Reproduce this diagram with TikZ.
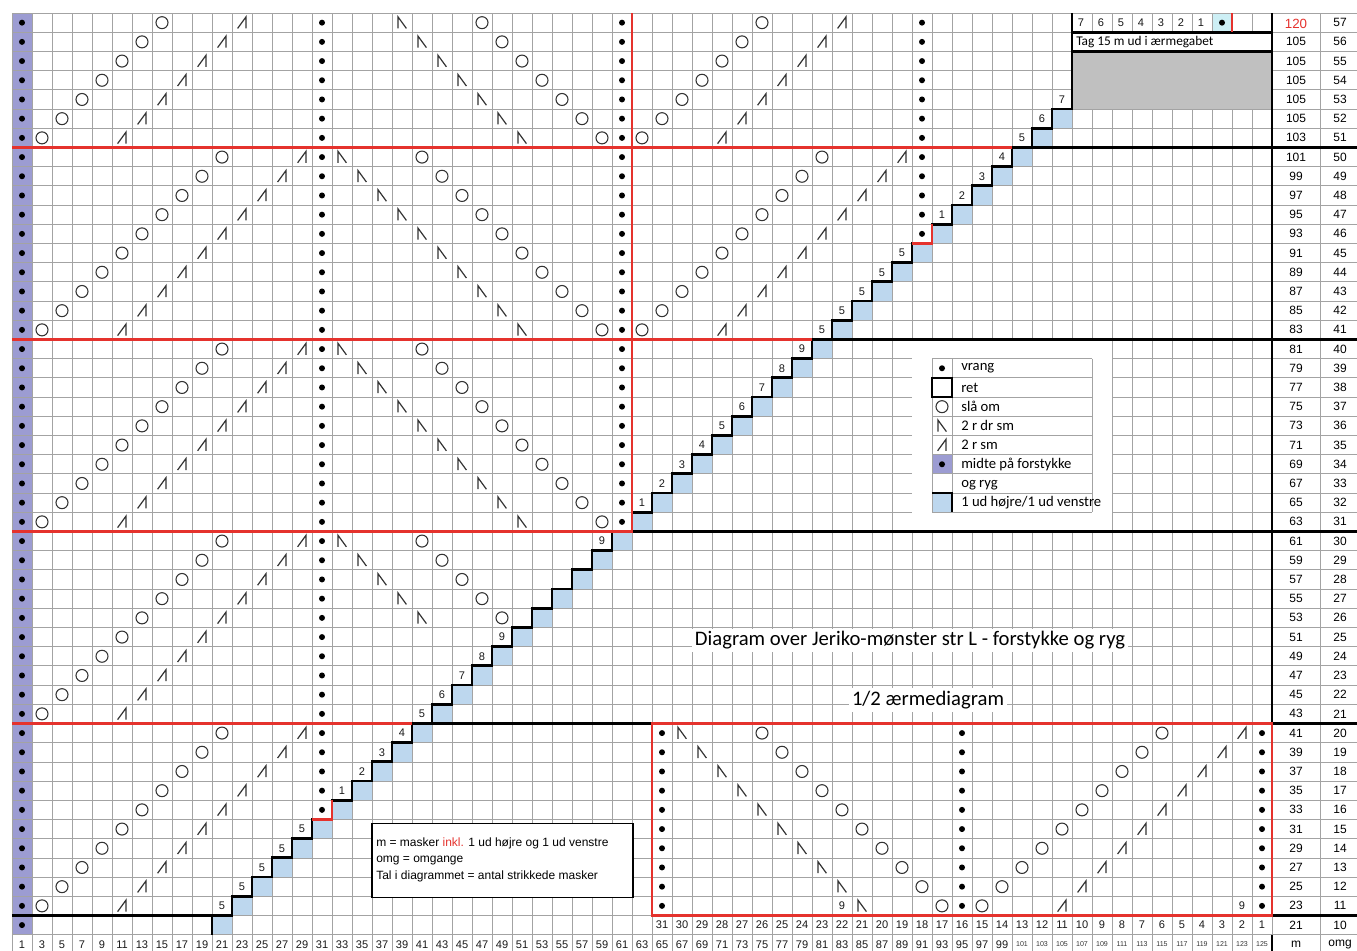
\documentclass[tikz,border=0pt]{standalone}
\usepackage{xcolor}
\usepackage{fontspec}
\setmainfont{Liberation Sans}
\newfontfamily\calibrifont{Carlito}
\usepackage{tikz}
\usetikzlibrary{positioning}
\definecolor{gridgrey}{HTML}{A3A3A3}
\definecolor{markred}{HTML}{E5322D}
\definecolor{midte}{HTML}{9C9CD2}
\definecolor{udblue}{HTML}{BDD7EE}
\definecolor{boxgrey}{HTML}{C0C0C0}
\definecolor{ink}{HTML}{333333}
\definecolor{tagcyan}{HTML}{CDEFF5}

\tikzset{
  drsm/.pic={\draw[ink, line width=0.9pt] (-0.2,0.3) -- (-0.2,-0.3) -- (0.22,0.3);},
  rsm/.pic={\draw[ink, line width=0.9pt] (-0.22,0.3) -- (0.2,-0.3) -- (0.2,0.3);},
}

\begin{document}
\begin{tikzpicture}[
    x=15pt, y=-14.4pt,
    gridline/.style={draw=gridgrey, line width=0.55pt},
    redline/.style={draw=markred, line width=2.1pt},
    blackline/.style={draw=black, line width=2.1pt},
    vrang/.style={circle, fill=black, inner sep=0pt, minimum size=4.5pt},
    slaaom/.style={circle, draw=ink, line width=0.8pt, inner sep=0pt, minimum size=9pt},
    tal/.style={font=\fontsize{8.3}{9}\selectfont, text=black!90, inner sep=0pt},
    tinytal/.style={font=\fontsize{5.3}{6}\selectfont, text=ink, inner sep=0pt},
    sidetal/.style={font=\fontsize{9}{10}\selectfont, inner sep=0pt},
    legendtext/.style={font=\calibrifont\fontsize{11}{12}\selectfont, anchor=west, inner sep=0pt},
    headline/.style={font=\calibrifont\fontsize{15.5}{18}\selectfont, fill=white, inner sep=2pt},
  ]
  \useasboundingbox (-0.6,-0.68) rectangle (67.25,48.85);

  \fill[midte] (0,0) rectangle (1,48);
  \foreach \rr in {5,...,47} \fill[udblue] ({57-\rr},\rr) rectangle ++(1,1);
  \fill[tagcyan] (60,0) rectangle (61,1);

  \foreach \cc in {0,...,63} \draw[gridline] (\cc,0) -- (\cc,49);
  \draw[gridline] (65.4,0) -- (65.4,49);
  \foreach \rr in {0,...,49} \draw[gridline] (0,\rr) -- (67.4,\rr);

  \fill[boxgrey] (53,2) rectangle (63,5);
  \fill[white] (53,1) rectangle (63,2);
  \fill[white] (45,17) rectangle (55,27);

  \fill[midte] (46,23) rectangle (47,24);
  \fill[udblue] (46,25) rectangle (47,26);
  \foreach \rr in {18,...,26} \draw[gridline] (46,\rr) -- (54,\rr);
  \foreach \cc in {46,47,54} \draw[gridline] (\cc,18) -- (\cc,26);
  \draw[black, line width=1.2pt] (46,19) rectangle (47,20);
  \draw[black, line width=1.5pt] (46,25) -- (47,25) -- (47,26);

  \draw[blackline] (0,47) foreach \rr in {46,...,5} { -- ({57-\rr},\rr+1) -- ({57-\rr},\rr) } -- (53,5) -- (53,0);
  \draw[blackline] (10,47) -- (10,48);
  \draw[blackline] (50,7) -- (67.4,7);
  \draw[blackline] (40,17) -- (67.4,17);
  \draw[blackline] (31,27) -- (67.4,27);
  \draw[blackline] (20,37) -- (32,37);
  \draw[blackline] (63,37) -- (67.4,37);
  \draw[blackline] (63,47) -- (67.4,47);
  \draw[blackline] (63,0) -- (63,37);
  \draw[blackline] (63,48) -- (63,49);
  \draw[blackline] (53,1) -- (63,1);
  \draw[blackline] (53,2) -- (63,2);

  \draw[redline] (0,7) -- (50,7);
  \draw[redline] (0,17) -- (40,17);
  \draw[redline] (0,27) -- (31,27) -- (31,0);
  \draw[redline] (0,37) -- (20,37);
  \draw[redline] (15,42) -- (16,42) -- (16,41);
  \draw[redline] (45,12) -- (46,12) -- (46,11);
  \draw[redline] (32,37) rectangle (63,47);
  \draw[redline] (61,0) -- (61,1);

  \foreach \rr in {0,...,47} \node[vrang] (mid-\rr) at (0.5,\rr+0.5) {};
  \foreach \rr in {0,...,41} \node[vrang] (va-\rr) at (15.5,\rr+0.5) {};
  \foreach \rr in {0,...,26} \node[vrang] (vb-\rr) at (30.5,\rr+0.5) {};
  \foreach \rr in {0,...,11} \node[vrang] (vc-\rr) at (45.5,\rr+0.5) {};
  \node[vrang] (tagdot) at (60.5,0.5) {};

  \foreach \rr in {0,...,46}{
    \pgfmathtruncatemacro{\kk}{mod(\rr+3,10)}
    \node[slaaom] (oa-\rr) at ({10.5-\kk},\rr+0.5) {};
    \pic at ({14.5-\kk},\rr+0.5) {rsm};
  }
  \foreach \rr in {0,...,31}{
    \pgfmathtruncatemacro{\kk}{mod(\rr+3,10)}
    \pic at ({16.5+\kk},\rr+0.5) {drsm};
    \node[slaaom] (ob-\rr) at ({20.5+\kk},\rr+0.5) {};
  }
  \foreach \rr in {0,...,16}{
    \pgfmathtruncatemacro{\kk}{mod(\rr+3,10)}
    \node[slaaom] (oc-\rr) at ({40.5-\kk},\rr+0.5) {};
    \pic at ({44.5-\kk},\rr+0.5) {rsm};
  }

  \foreach \rr in {37,...,46}{
    \pgfmathtruncatemacro{\kk}{\rr-37}
    \node[vrang] (sa-\rr) at (32.5,\rr+0.5) {};
    \node[vrang] (sb-\rr) at (47.5,\rr+0.5) {};
    \node[vrang] (sc-\rr) at (62.5,\rr+0.5) {};
    \pic at ({33.5+\kk},\rr+0.5) {drsm};
    \node[slaaom] (so-\rr) at ({37.5+\kk},\rr+0.5) {};
    \node[slaaom] (sp-\rr) at ({57.5-\kk},\rr+0.5) {};
    \pic at ({61.5-\kk},\rr+0.5) {rsm};
  }
  \node[tal] (ni-a) at (41.5,46.5) {9};
  \node[tal] (ni-b) at (61.5,46.5) {9};

  \foreach \rr/\txt in {46/5,45/5,44/5,43/5,42/5,40/1,39/2,38/3,37/4,36/5,35/6,34/7,33/8,32/9,27/9,
      25/1,24/2,23/3,22/4,21/5,20/6,19/7,18/8,17/9,16/5,15/5,14/5,13/5,12/5,10/1,9/2,8/3,7/4,6/5,5/6,4/7}
    \node[tal] (trin-\rr) at ({56.5-\rr},\rr+0.5) {\txt};

  \foreach \cc/\txt in {53/7,54/6,55/5,56/4,57/3,58/2,59/1}
    \node[tal] (ud-\cc) at (\cc+0.45,0.5) {\txt};
  \node[font=\calibrifont\fontsize{10}{11}\selectfont, anchor=west, inner sep=0pt] (tag) at (53.2,1.5) {Tag 15 m ud i ærmegabet};

  \node[sidetal, text=markred, font=\fontsize{10}{11}\selectfont] (m-0) at (64.2,0.55) {120};
  \node[sidetal] (omg-0) at (66.4,0.5) {57};
  \foreach \rr in {1,...,47}{
    \pgfmathtruncatemacro{\omgval}{57-\rr}
    \pgfmathtruncatemacro{\mval}{\rr<6 ? 105 : 115-2*\rr}
    \node[sidetal] (m-\rr) at (64.2,\rr+0.5) {\mval};
    \node[sidetal] (omg-\rr) at (66.4,\rr+0.5) {\omgval};
  }

  \foreach \cc in {32,...,62}{
    \pgfmathtruncatemacro{\lbl}{63-\cc}
    \node[tal] (ae-\cc) at (\cc+0.5,47.5) {\lbl};
  }
  \foreach \cc in {0,...,49}{
    \pgfmathtruncatemacro{\lbl}{2*\cc+1}
    \node[tal] (nr-\cc) at (\cc+0.5,48.5) {\lbl};
  }
  \foreach \cc in {50,...,62}{
    \pgfmathtruncatemacro{\lbl}{2*\cc+1}
    \node[tinytal] (nr-\cc) at (\cc+0.5,48.5) {\lbl};
  }
  \node[sidetal] (m-fod) at (64.2,48.5) {m};
  \node[sidetal] (omg-fod) at (66.4,48.5) {omg};

  \node[vrang] (lg-a) at (46.5,18.5) {};
  \node[slaaom] (lg-c) at (46.5,20.5) {};
  \pic at (46.5,21.5) {drsm};
  \pic at (46.5,22.5) {rsm};
  \node[vrang] (lg-f) at (46.5,23.5) {};
  \node[legendtext] (lt-a) at (47.45,18.5) {vrang};
  \node[legendtext] (lt-b) at (47.45,19.5) {ret};
  \node[legendtext] (lt-c) at (47.45,20.5) {slå om};
  \node[legendtext] (lt-d) at (47.45,21.5) {2 r dr sm};
  \node[legendtext] (lt-e) at (47.45,22.5) {2 r sm};
  \node[legendtext] (lt-f) at (47.45,23.5) {midte på forstykke};
  \node[legendtext] (lt-g) at (47.45,24.6) {og ryg};
  \node[legendtext] (lt-h) at (47.45,25.5) {1 ud højre/1 ud venstre};

  \draw[fill=white, line width=1pt] (18,42.2) rectangle (31.05,46.05);
  \node[anchor=west, align=left, inner sep=0pt, font=\fontsize{9}{12.3}\selectfont] (noter) at (18.2,44.1)
    {m = masker {\color{markred}inkl.} 1 ud højre og 1 ud venstre\\omg = omgange\\Tal i diagrammet = antal strikkede masker};

  \node[headline] (titel) at (44.9,32.66) {Diagram over Jeriko-mønster str L - forstykke og ryg};
  \node[headline] (aerme) at (45.8,35.78) {1/2 ærmediagram};
\end{tikzpicture}
\end{document}
